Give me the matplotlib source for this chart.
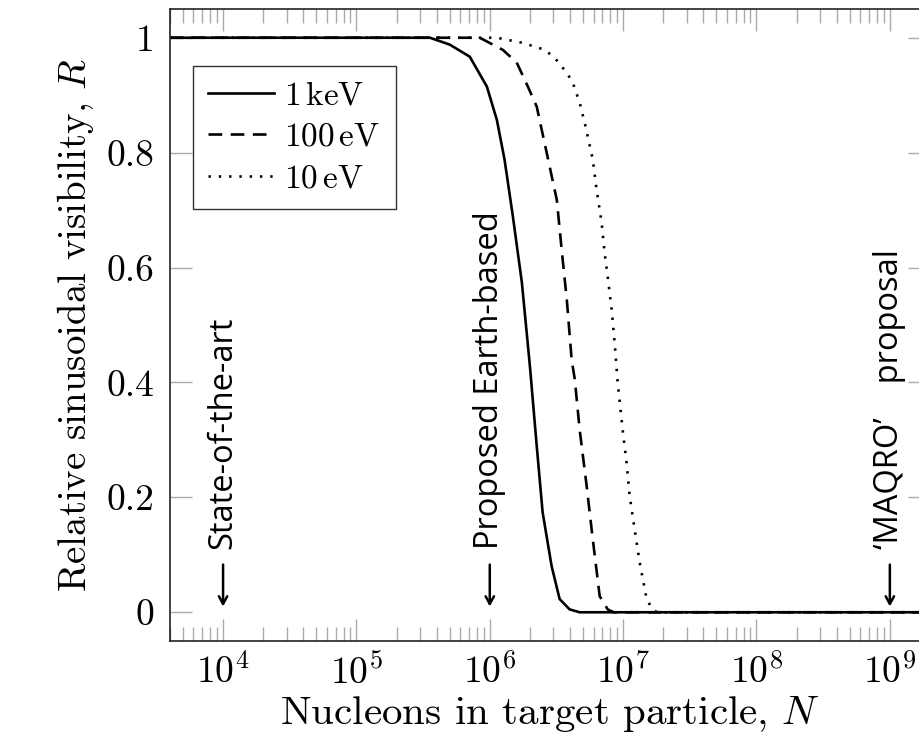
import matplotlib
matplotlib.use('Agg')
import matplotlib.pyplot as plt
from matplotlib.ticker import FixedLocator, LogLocator, NullFormatter

plt.rcParams['font.family'] = ['cmr10']
plt.rcParams['mathtext.fontset'] = 'cm'
plt.rcParams['axes.formatter.use_mathtext'] = True

# values (N, R)
n_1kev = [4e3, 3.56e5, 5.01e5, 7.08e5, 9.51e5, 1.13e6, 1.29e6, 1.49e6, 1.74e6,
          2.00e6, 2.25e6, 2.49e6, 2.91e6, 3.34e6, 3.97e6, 4.72e6, 2e9]
r_1kev = [1.0, 1.0, 0.988, 0.967, 0.915, 0.857, 0.788, 0.689, 0.574,
          0.428, 0.289, 0.174, 0.080, 0.023, 0.005, 0.0, 0.0]

n_100ev = [4e3, 8.41e5, 1.25e6, 1.59e6, 1.93e6, 2.25e6, 2.45e6, 2.67e6, 3.18e6,
           3.46e6, 3.78e6, 4.11e6, 4.34e6, 4.72e6, 5.33e6, 5.92e6, 6.67e6,
           7.66e6, 8.5e6, 2e9]
r_100ev = [1.0, 1.0, 0.979, 0.957, 0.915, 0.880, 0.840, 0.800, 0.718,
           0.631, 0.544, 0.440, 0.405, 0.318, 0.219, 0.127, 0.028,
           0.005, 0.0, 0.0]

n_10ev = [4e3, 1.13e6, 1.77e6, 2.58e6, 3.07e6, 3.78e6, 4.19e6, 4.72e6, 5.15e6,
          5.92e6, 6.32e6, 6.90e6, 7.26e6, 7.66e6, 8.20e6, 8.63e6, 9.10e6,
          9.91e6, 1.06e7, 1.12e7, 1.22e7, 1.33e7, 1.50e7, 1.66e7, 1.8e7, 2e9]
r_10ev = [1.0, 1.0, 0.991, 0.979, 0.965, 0.939, 0.922, 0.887, 0.852,
          0.788, 0.736, 0.678, 0.626, 0.584, 0.527, 0.470, 0.400,
          0.318, 0.261, 0.202, 0.144, 0.087, 0.023, 0.005, 0.0, 0.0]

series_labels = ['1$\\,$keV', '100$\\,$eV', '10$\\,$eV']

y_ticks = [0, 0.2, 0.4, 0.6, 0.8, 1]
y_ticklabels = ['0', '0.2', '0.4', '0.6', '0.8', '1']
x_ticks = [1e4, 1e5, 1e6, 1e7, 1e8, 1e9]
x_ticklabels = ['$10^{4}$', '$10^{5}$', '$10^{6}$', '$10^{7}$', '$10^{8}$', '$10^{9}$']

marker_n = [1e4, 1e6, 1e9]
marker_text = ['State-of-the-art', 'Proposed Earth-based',
               '\u2018MAQRO\u2019    proposal']

fig = plt.figure(figsize=(9.2, 7.47), dpi=100)
ax = fig.add_axes([170 / 920, 1 - 641 / 747, 760 / 920, 632 / 747])

ax.plot(n_1kev, r_1kev, color='black', lw=1.9, label=series_labels[0])
ax.plot(n_100ev, r_100ev, color='black', lw=1.9, dashes=(5.2, 3.2), label=series_labels[1])
ax.plot(n_10ev, r_10ev, color='black', lw=1.9, linestyle=(0, (0.9, 3.0)),
        label=series_labels[2])

ax.set_xscale('log')
ax.set_xlim(4e3, 2e9)
ax.set_ylim(-0.05, 1.05)

ax.xaxis.set_major_locator(FixedLocator(x_ticks))
ax.set_xticklabels(x_ticklabels)
ax.xaxis.set_minor_locator(LogLocator(base=10, subs=range(2, 10), numticks=20))
ax.xaxis.set_minor_formatter(NullFormatter())
ax.set_yticks(y_ticks)
ax.set_yticklabels(y_ticklabels)

ax.tick_params(which='both', direction='in', top=True, right=True,
               color='#aaaaaa', width=1.0, labelsize=27)
ax.tick_params(which='major', length=16)
ax.tick_params(which='minor', length=10)
ax.tick_params(axis='x', pad=9)
ax.tick_params(axis='y', pad=11)
for s in ax.spines.values():
    s.set_color('#222222')
    s.set_linewidth(1.2)

ax.set_xlabel('Nucleons in target particle, $N$', fontsize=29.5, labelpad=2)
ax.set_ylabel('Relative sinusoidal visibility, $R$', fontsize=28, labelpad=8)

# markers: downward arrow with rotated label above it
for n, t in zip(marker_n, marker_text):
    ax.annotate('', xy=(n, 0.010), xytext=(n, 0.083),
                arrowprops=dict(arrowstyle='->,head_length=0.55,head_width=0.3',
                                color='black', lw=1.8, shrinkA=0, shrinkB=0))
    ax.text(n, 0.11, t, rotation=90, ha='center', va='bottom', fontsize=23.5,
            family=['Open Sans', 'DejaVu Sans'])

leg = ax.legend(loc='upper left', bbox_to_anchor=(0.03, 0.91), fontsize=24,
                frameon=True, fancybox=False, edgecolor='black',
                handlelength=2.0, handletextpad=0.3, borderpad=0.45,
                labelspacing=0.37, borderaxespad=0)
leg.get_frame().set_linewidth(1.0)

fig.savefig('out.png', dpi=100)
